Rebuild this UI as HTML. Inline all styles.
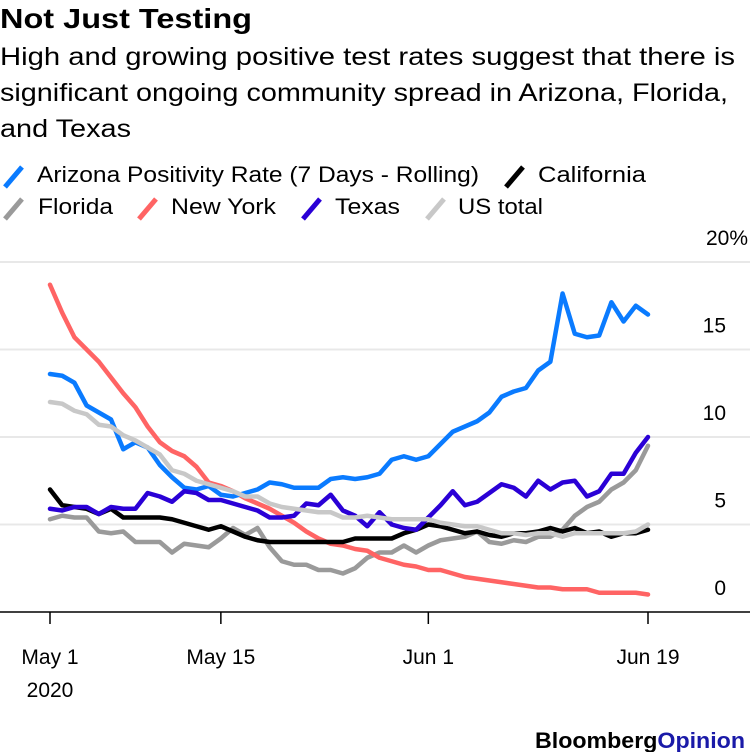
<!DOCTYPE html>
<html><head><meta charset="utf-8"><style>
body{margin:0;background:#fff;font-family:"Liberation Sans",sans-serif;}
#wrap{position:relative;width:750px;height:752px;overflow:hidden;}
</style></head><body>
<div id="wrap">
<svg id="svg" width="750" height="752" xmlns="http://www.w3.org/2000/svg">
<text x="0" y="28" font-size="28" font-weight="bold" fill="#000" font-family="Liberation Sans, sans-serif" textLength="252" lengthAdjust="spacingAndGlyphs">Not Just Testing</text>
<g font-size="25" fill="#000" font-family="Liberation Sans, sans-serif">
<text x="0" y="65" textLength="735" lengthAdjust="spacingAndGlyphs">High and growing positive test rates suggest that there is</text>
<text x="0" y="101" textLength="728" lengthAdjust="spacingAndGlyphs">significant ongoing community spread in Arizona, Florida,</text>
<text x="0" y="137" textLength="131" lengthAdjust="spacingAndGlyphs">and Texas</text>
</g>
<g id="legend" font-size="22" font-family="Liberation Sans, sans-serif"></g>
<g id="grid"></g>
<g id="lines"></g>
<g id="xaxis" font-size="21" font-family="Liberation Sans, sans-serif"></g>
<text x="535" y="748" font-size="22" font-weight="bold" font-family="Liberation Sans, sans-serif" fill="#000" textLength="210" lengthAdjust="spacingAndGlyphs">Bloomberg<tspan fill="#1a1aa8">Opinion</tspan></text>
</svg>
</div>
<script>
const yTicks=[0,5,10,15,20];
const yTickLabels=["0","5","10","15","20%"];
const xTickDays=[0,14,31,49];
const xTickLabels=["May 1","May 15","Jun 1","Jun 19"];
const seriesNames=["Arizona Positivity Rate (7 Days - Rolling)","California","Florida","New York","Texas","US total"];
const arizona=[13.6,13.5,13.1,11.8,11.4,11.0,9.3,9.7,9.4,8.4,7.7,7.1,7.0,7.2,6.7,6.6,6.8,7.0,7.4,7.3,7.1,7.1,7.1,7.6,7.7,7.6,7.7,7.9,8.7,8.9,8.7,8.9,9.6,10.3,10.6,10.9,11.4,12.3,12.6,12.8,13.8,14.3,18.2,15.9,15.7,15.8,17.7,16.6,17.5,17.0];
const california=[7.0,6.1,6.0,5.9,5.6,5.9,5.4,5.4,5.4,5.4,5.3,5.1,4.9,4.7,4.9,4.6,4.3,4.1,4.0,4.0,4.0,4.0,4.0,4.0,4.0,4.2,4.2,4.2,4.2,4.5,4.7,5.0,4.9,4.7,4.5,4.6,4.4,4.3,4.5,4.5,4.6,4.8,4.6,4.8,4.5,4.6,4.3,4.5,4.5,4.7];
const florida=[5.3,5.5,5.4,5.4,4.6,4.5,4.6,4.0,4.0,4.0,3.4,3.9,3.8,3.7,4.2,4.8,4.4,4.8,3.7,2.9,2.7,2.7,2.4,2.4,2.2,2.5,3.1,3.4,3.4,3.8,3.4,3.8,4.1,4.2,4.3,4.6,4.0,3.9,4.1,4.0,4.3,4.3,4.7,5.5,6.0,6.3,7.0,7.4,8.1,9.5];
const newYork=[18.7,17.1,15.7,15.0,14.3,13.4,12.5,11.7,10.6,9.7,9.2,8.9,8.3,7.4,7.2,6.9,6.5,6.2,5.9,5.5,5.1,4.6,4.2,3.9,3.8,3.6,3.5,3.1,2.9,2.7,2.6,2.4,2.4,2.2,2.0,1.9,1.8,1.7,1.6,1.5,1.4,1.4,1.3,1.3,1.3,1.1,1.1,1.1,1.1,1.0];
const texas=[5.9,5.8,6.0,6.0,5.6,6.0,5.9,5.9,6.8,6.6,6.3,6.9,6.8,6.4,6.4,6.2,6.0,5.8,5.4,5.4,5.5,6.2,6.1,6.7,5.8,5.5,4.9,5.7,5.0,4.8,4.7,5.4,6.1,6.9,6.1,6.3,6.8,7.3,7.1,6.6,7.5,7.0,7.4,7.5,6.6,6.9,7.9,7.9,9.1,10.0];
const usTotal=[12.0,11.9,11.5,11.3,10.7,10.6,10.1,9.8,9.4,9.0,8.1,7.9,7.5,7.3,7.1,6.9,6.6,6.6,6.2,6.0,5.9,5.8,5.7,5.7,5.4,5.4,5.5,5.4,5.3,5.3,5.3,5.3,5.1,5.0,4.9,4.9,4.7,4.5,4.5,4.4,4.5,4.5,4.3,4.5,4.5,4.5,4.5,4.5,4.6,5.0];

const NS="http://www.w3.org/2000/svg";
const x=d=>50+d*(598/49);
const y=v=>612-v*17.5;
function mk(tag,attrs,parent){const e=document.createElementNS(NS,tag);for(const k in attrs)e.setAttribute(k,attrs[k]);parent.appendChild(e);return e;}
const grid=document.getElementById('grid');
yTicks.forEach((t,i)=>{
  const l=mk('line',{x1:0,x2:750,y1:y(t),y2:y(t),stroke:t===0?'#000':'#e8e8e8','stroke-width':t===0?1.5:2},grid);
  
  
  const tx=mk('text',{x:i===4?748:726,y:y(t)-17,'font-size':21,'text-anchor':'end','font-family':'Liberation Sans, sans-serif',fill:'#000'},grid);
  tx.textContent=yTickLabels[i];
  
  
});
const xa=document.getElementById('xaxis');
xTickDays.forEach((d,i)=>{
  const l=mk('line',{x1:x(d),x2:x(d),y1:612,y2:624,stroke:'#000','stroke-width':1.5},xa);
  
  
  const t=mk('text',{x:x(d),y:664,'text-anchor':'middle',fill:'#000'},xa);
  t.textContent=xTickLabels[i];
  
  
});
const yr=mk('text',{x:x(0),y:697,'text-anchor':'middle',fill:'#000'},xa);
yr.textContent="2020";



const series=[arizona,california,florida,newYork,texas,usTotal];
const colors=["#0a7bff","#000000","#9a9a9a","#ff6464","#2a00d6","#c8c8c8"];
const keys=["arizona","california","florida","new-york","texas","us-total"];
const lines=document.getElementById('lines');
const order=[2,3,0,1,4,5];
order.forEach(i=>{
  const p=mk('polyline',{points:series[i].map((v,d)=>x(d)+','+y(v)).join(' '),fill:'none',stroke:colors[i],'stroke-width':4.5,'stroke-linejoin':'round','stroke-linecap':'round'},lines);
  
  
});
const lg=document.getElementById('legend');
const legPos=[[2,182],[503,182],[2,214],[136,214],[300,214],[424,214]];
const legText=[[37,442],[538,108],[38,75],[171,105],[335,65],[458,85]];
seriesNames.forEach((n,i)=>{
  const [lx,ly]=legPos[i];
  const g=mk('g',{},lg);
  
  
  mk('line',{x1:lx+3,y1:ly+5,x2:lx+20,y2:ly-15,stroke:colors[i],'stroke-width':5},g);
  const t=mk('text',{x:legText[i][0],y:ly,fill:'#000',textLength:legText[i][1],lengthAdjust:'spacingAndGlyphs'},g);
  t.textContent=n;
});
</script>
</body></html>
